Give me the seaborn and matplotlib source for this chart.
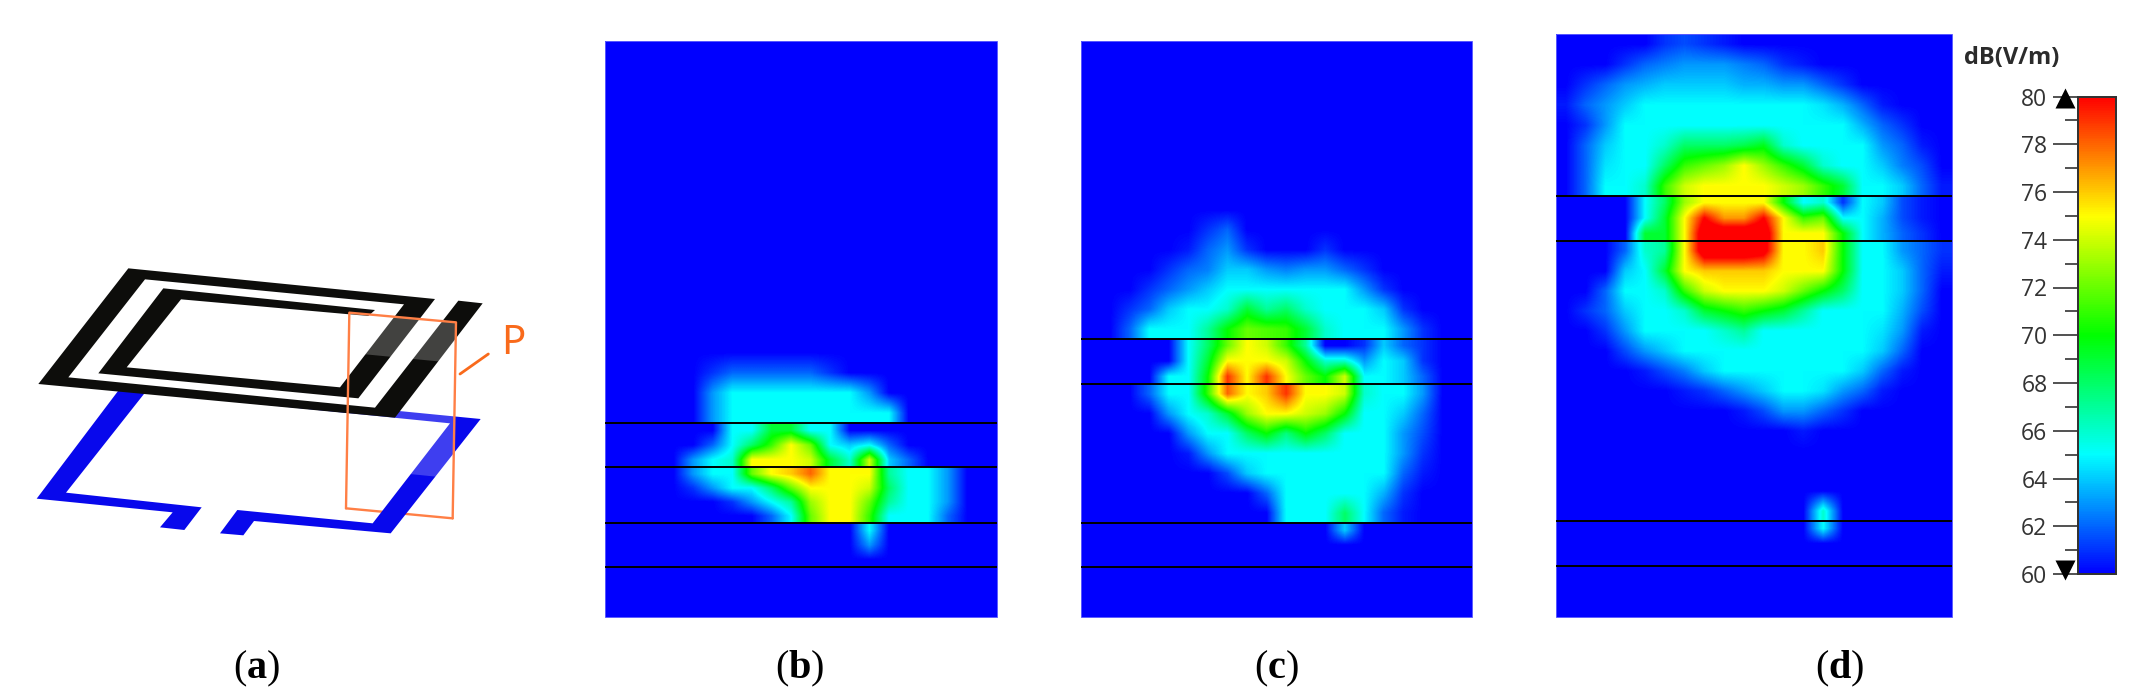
import numpy as np
import seaborn as sns
import matplotlib.pyplot as plt
from matplotlib.colors import LinearSegmentedColormap
from matplotlib.patches import Polygon, Rectangle

W, H = 2156, 696

BLANK = [60] * 20

# field strength in dB(V/m), one block per strip between the black lines
b_band1 = [BLANK] * 16 + [
    [60, 60, 60, 60, 60, 61, 62, 62, 62, 62, 62, 61, 60, 60, 60, 60, 60, 60, 60, 60],
    [60, 60, 60, 60, 60, 63, 65, 65, 65, 65, 65, 65, 65, 63, 60, 60, 60, 60, 60, 60],
    [60, 60, 60, 60, 60, 63, 65, 65, 65, 65, 65, 65, 65, 65, 65, 60, 60, 60, 60, 60],
]
b_band2 = [
    [60, 60, 60, 60, 60, 60, 65, 65, 69, 69, 65, 65, 60, 60, 60, 60, 60, 60, 60, 60],
    [60, 60, 60, 60, 60, 62, 65, 68, 71, 75, 72, 65, 64, 65, 62, 60, 60, 60, 60, 60],
    [60, 60, 60, 60, 63, 65, 66, 75, 75, 75, 74, 69, 66, 74, 64, 62, 60, 60, 60, 60],
]
b_band3 = [
    [60, 60, 60, 60, 63, 65, 65, 72, 75, 76, 78, 75, 75, 75, 67, 65, 65, 63, 60, 60],
    [60, 60, 60, 60, 61, 63, 65, 65, 68, 72, 75, 75, 75, 74, 68, 65, 65, 63, 60, 60],
    [60, 60, 60, 60, 60, 60, 61, 63, 65, 67, 73, 75, 75, 72, 67, 65, 65, 63, 60, 60],
    [60, 60, 60, 60, 60, 60, 60, 60, 62, 65, 72, 75, 75, 71, 65, 65, 65, 62, 60, 60],
]
b_band4 = [
    [60, 60, 60, 60, 60, 60, 60, 60, 60, 60, 60, 60, 60, 65, 60, 60, 60, 60, 60, 60],
    [60, 60, 60, 60, 60, 60, 60, 60, 60, 60, 60, 60, 60, 63, 60, 60, 60, 60, 60, 60],
    BLANK,
]

c_band1 = [BLANK] * 9 + [
    [60, 60, 60, 60, 60, 60, 61, 62, 60, 60, 60, 60, 60, 60, 60, 60, 60, 60, 60, 60],
    [60, 60, 60, 60, 60, 60.5, 62, 63, 61, 60, 60, 60, 61, 60, 60, 60, 60, 60, 60, 60],
    [60, 60, 60, 60, 61, 62, 62.5, 64, 64, 63, 62.5, 63, 63, 62, 61, 60, 60, 60, 60, 60],
    [60, 60, 60, 61, 62, 63, 64, 65, 65, 65, 65, 65, 65, 65, 63, 61, 60, 60, 60, 60],
    [60, 60, 61, 62, 64, 65, 65, 66, 69, 67, 68, 66, 65, 65, 65, 64, 61, 60, 60, 60],
    [60, 60, 62, 65, 65, 65, 67, 70, 72, 71.5, 71, 69, 66, 65, 65, 65, 63, 61, 60, 60],
]
c_band2 = [
    [60, 60, 60, 60, 60, 65, 68, 72, 75, 74, 71, 67, 60, 60, 61, 64, 62, 61, 60, 60],
    [60, 60, 60, 60, 60, 65, 69, 75, 75, 75, 74, 70, 66, 66, 63, 65, 64, 61, 60, 60],
    [60, 60, 60, 60, 65, 65, 70, 79, 75, 79, 75, 72, 70, 74, 65, 65, 64, 62, 60, 60],
]
c_band3 = [
    [60, 60, 60, 62, 65, 65, 71, 78, 75, 76, 79, 75, 75, 74, 66, 65, 65, 63, 60, 60],
    [60, 60, 60, 60, 63, 65, 66, 69, 73, 75, 75, 74, 73, 70, 65, 65, 64, 62, 60, 60],
    [60, 60, 60, 60, 60, 63, 65, 65, 68, 70, 67.5, 70, 68, 65, 65, 65, 63, 61.5, 60, 60],
    [60, 60, 60, 60, 60, 60.5, 63, 65, 65, 65, 65, 65, 65, 65, 65, 65, 63, 61, 60, 60],
    [60, 60, 60, 60, 60, 60, 60, 61.5, 64, 65, 65, 65, 65, 65, 65, 65, 62, 60.5, 60, 60],
    [60, 60, 60, 60, 60, 60, 60, 60, 60, 62, 65, 65, 65, 65, 65, 63.5, 61, 60, 60, 60],
    [60, 60, 60, 60, 60, 60, 60, 60, 60, 60, 65, 65, 65, 68, 65, 62, 60.5, 60, 60, 60],
]
c_band4 = [
    [60, 60, 60, 60, 60, 60, 60, 60, 60, 60, 60, 60, 60, 64, 60, 60, 60, 60, 60, 60],
    BLANK,
    BLANK,
]

d_band1 = [
    [60, 60, 60, 60, 60, 61, 61.5, 61, 60.5, 60, 60, 60, 60, 60, 60, 60, 60, 60, 60, 60],
    [60, 60, 60, 61, 62, 62.5, 63, 63, 63, 62.5, 62, 61, 60.5, 60, 60, 60, 60, 60, 60, 60],
    [60, 61, 62, 63, 63.5, 64, 64, 64, 64, 63.5, 63.5, 63, 63, 62, 61, 60, 60, 60, 60, 60],
    [60.5, 62, 63, 64, 65, 65, 65, 65, 65, 65, 65, 65, 65, 64.5, 63.5, 62, 60.5, 60, 60, 60],
    [60, 61, 63, 65, 65, 65, 65, 65, 65, 65, 65, 65, 65, 65, 65, 63.5, 62, 61, 60, 60],
    [60, 62, 64, 65, 65, 66, 68, 68, 68, 68.5, 69.5, 66, 65, 65, 65, 65, 63, 62, 60.5, 60],
    [60, 62, 64.5, 65, 65, 68, 71, 72, 73, 75, 73, 71, 69, 66, 65, 65, 64, 62.5, 61.5, 60],
    [60, 62, 65, 65, 66, 71, 74, 75, 75, 75, 75, 74, 73, 71, 69, 65, 65, 64, 62, 60.5],
]
d_band2 = [
    [60, 60, 60, 60, 65, 68, 73, 75, 75, 75, 75, 70, 65, 66, 61, 65, 64, 61.5, 60.5, 60],
    [60, 60, 60, 60, 65, 69, 75, 80, 77, 77, 80, 75, 71, 72, 65, 65, 63.5, 61.5, 60.5, 60],
    [60, 60, 60, 60, 69, 69, 75, 82, 82, 82, 82, 75, 75, 75, 70, 65, 63.5, 62, 61, 60],
]
d_band3 = [
    [60, 60, 60, 62, 66, 67, 75, 82, 82, 82, 81, 75, 75, 76, 70, 65, 65, 63, 62, 61],
    [60, 60, 60, 64, 65, 69, 75, 76, 76, 76, 76, 75, 75, 75, 70, 65, 65, 64, 62, 60.5],
    [60, 60, 62, 65, 65, 66, 71, 74, 75, 75, 75, 74, 72, 70, 68, 65, 65, 64, 62, 60],
    [60, 61, 62, 64, 65, 65, 66, 69, 70, 71, 70, 69, 67, 65, 65, 65, 65, 63.5, 61.5, 60],
    [60, 60, 61, 63, 65, 65, 65, 65, 66, 67, 65, 65, 65, 65, 65, 65, 64.5, 63, 60.5, 60],
    [60, 60, 60, 61.5, 63, 64, 65, 65, 65, 65, 65, 65, 65, 65, 65, 65, 64, 62, 60, 60],
    [60, 60, 60, 60, 60.5, 61.5, 62.5, 64, 65, 65, 65, 65, 65, 65, 65, 64, 62, 60.5, 60, 60],
    [60, 60, 60, 60, 60, 60, 60.5, 61, 62, 63, 64, 65, 65, 64.5, 63, 62, 60.5, 60, 60, 60],
    [60, 60, 60, 60, 60, 60, 60, 60, 60, 60.5, 61.5, 63, 63, 62, 61, 60, 60, 60, 60, 60],
    [60, 60, 60, 60, 60, 60, 60, 60, 60, 60, 60, 60, 60.5, 60, 60, 60, 60, 60, 60, 60],
    BLANK,
    BLANK,
    BLANK,
    [60, 60, 60, 60, 60, 60, 60, 60, 60, 60, 60, 60, 60, 66, 60, 60, 60, 60, 60, 60],
]
d_band4 = [
    [60, 60, 60, 60, 60, 60, 60, 60, 60, 60, 60, 60, 60, 65, 60, 60, 60, 60, 60, 60],
    BLANK,
    BLANK,
]

b_bands = [b_band1, b_band2, b_band3, b_band4, [BLANK, BLANK]]
c_bands = [c_band1, c_band2, c_band3, c_band4, [BLANK, BLANK]]
d_bands = [d_band1, d_band2, d_band3, d_band4, [BLANK, BLANK]]

# panel geometry in pixels of the 2156x696 picture
panels = [
    (605, 997, [41, 423, 467, 523, 567, 617], b_bands),
    (1081, 1472, [41, 339, 384, 523, 567, 617], c_bands),
    (1556, 1952, [34, 196, 241, 521, 566, 617], d_bands),
]
cbar_box = (2078, 2116, 96.5, 574)
cbar_major = [60, 62, 64, 66, 68, 70, 72, 74, 76, 78, 80]
cbar_minor = [61, 63, 65, 67, 69, 71, 73, 75, 77, 79]

labels = ["a", "b", "c", "d"]
label_x = [257, 800, 1276, 1840]

coil = [(1285, 122), (1358, 130), (1095, 473), (25, 372), (295, 25), (1215, 117),
        (985, 415), (205, 340), (400, 85), (1035, 150), (1015, 168), (453, 118),
        (290, 322), (930, 382), (1122, 133), (345, 58), (115, 352), (1035, 443)]
loop = [(280, 372), (1352, 477), (1082, 820), (672, 783), (640, 826), (570, 820),
        (622, 750), (1028, 790), (1260, 490), (345, 398), (108, 698), (515, 742),
        (463, 810), (390, 802), (428, 757), (20, 716)]
plane_upper = [(958, 158), (1278, 187), (1275, 309), (955, 278)]
plane_lower = [(952, 430), (1272, 465), (1268, 655), (950, 623)]
plane_top = [(948, 745), (958, 158), (1278, 187), (1268, 775)]
plane_bottom = [(948, 745), (1268, 775)]
leader = [(1290, 342), (1375, 282)]

sns.set_style("white")
plt.rcParams["font.family"] = ["Open Sans", "DejaVu Sans"]
plt.rcParams["mathtext.fontset"] = "custom"
plt.rcParams["mathtext.rm"] = "Liberation Serif"
plt.rcParams["mathtext.bf"] = "Liberation Serif:bold"

field = LinearSegmentedColormap.from_list(
    "field", ["#0000ff", "#00ffff", "#00ff00", "#ffff00", "#ff0000"]
)


def px_axes(x0, x1, y0, y1):
    return fig.add_axes([x0 / W, 1 - y1 / H, (x1 - x0) / W, (y1 - y0) / H])


def draw_band(ax, rows, **kws):
    z = np.array(rows, dtype=float)
    sns.heatmap(z, ax=ax, cmap=field, vmin=60, vmax=80,
                xticklabels=False, yticklabels=False, **kws)
    # the solver output is smooth, so shade the same cells with a bilinear image on top
    ax.imshow(z, extent=(0, z.shape[1], z.shape[0], 0), cmap=field, vmin=60, vmax=80,
              interpolation="bilinear", aspect="auto", zorder=3)


def sketch(points):
    return [(30 + x / 3, 260 + y / 3) for x, y in points]


fig = plt.figure(figsize=(W / 100, H / 100), dpi=100, facecolor="white")

cax = px_axes(*cbar_box)
for i, (x0, x1, edges, bands) in enumerate(panels):
    for j, rows in enumerate(bands):
        ax = px_axes(x0, x1, edges[j], edges[j + 1])
        if i == 0 and j == 0:
            draw_band(ax, rows, cbar_ax=cax)
        else:
            draw_band(ax, rows, cbar=False)

cax.yaxis.set_ticks_position("left")
cax.set_yticks(cbar_major)
cax.set_yticks(cbar_minor, minor=True)
cax.tick_params(axis="y", which="major", length=18, width=1.2, color="#333333",
                labelsize=16.5, labelcolor="#333333", pad=4, left=True, right=False)
cax.tick_params(axis="y", which="minor", length=9.5, width=1.2, color="#333333",
                left=True, right=False)
for spine in cax.spines.values():
    spine.set_visible(True)
    spine.set_linewidth(1.3)
    spine.set_color("#333333")

# everything in pixel coordinates goes on one sheet on top
sheet = fig.add_axes([0, 0, 1, 1], zorder=10)
sheet.set_xlim(0, W)
sheet.set_ylim(H, 0)
sheet.axis("off")

for x0, x1, edges, bands in panels:
    sheet.hlines(edges[1:-1], x0, x1, color="black", lw=1.4)
    sheet.add_patch(Rectangle((x0, edges[0]), x1 - x0, edges[-1] - edges[0], fill=False,
                              edgecolor="#5a5aff", lw=0.7))

bottom = np.array(sketch(plane_bottom))
sheet.plot(bottom[:, 0], bottom[:, 1], color="#ff7f45", lw=1.7, zorder=1)
sheet.add_patch(Polygon(sketch(loop), facecolor="#0808ec", edgecolor="none", zorder=2))
sheet.add_patch(Polygon(sketch(plane_lower), facecolor="white", alpha=0.22, edgecolor="none", zorder=3))
sheet.add_patch(Polygon(sketch(coil), facecolor="#0d0d0b", edgecolor="none", zorder=4))
sheet.add_patch(Polygon(sketch(plane_upper), facecolor="white", alpha=0.22, edgecolor="none", zorder=5))
top = np.array(sketch(plane_top))
sheet.plot(top[:, 0], top[:, 1], color="#ff7f45", lw=1.7, zorder=6, solid_joinstyle="round")
tick = np.array(sketch(leader))
sheet.plot(tick[:, 0], tick[:, 1], color="#f96a1b", lw=2.0, zorder=6)
sheet.text(513, 354, "P", color="#f96a1b", fontsize=29, ha="center", va="baseline",
           family="Noto Sans")

for name, x in zip(labels, label_x):
    sheet.text(x, 669, rf"$\mathrm{{(}}\mathbf{{{name}}}\mathrm{{)}}$", fontsize=29,
               ha="center", va="center", color="black")

sheet.text(2012, 58, "dB(V/m)", fontsize=17, fontweight="bold", color="#2b2b2b",
           ha="center", va="center")
sheet.plot([2065], [98], marker="^", ms=14, color="black", mec="none", clip_on=False)
sheet.plot([2065], [570], marker="v", ms=14, color="black", mec="none", clip_on=False)

fig.savefig("out.png", dpi=100)
